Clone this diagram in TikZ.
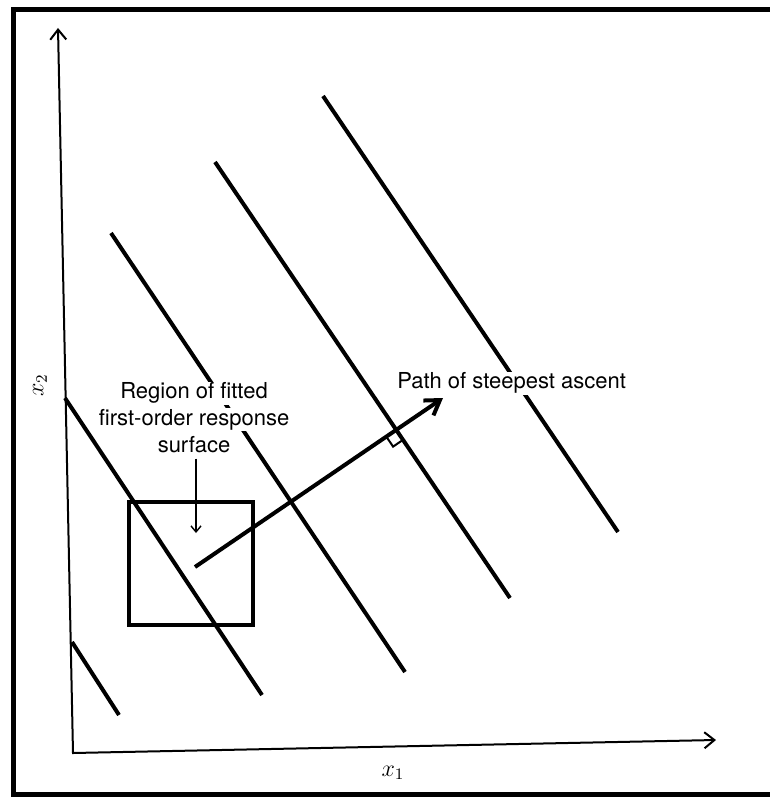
\documentclass[tikz,border=0pt]{standalone}
\usepackage{fontspec}
\newfontfamily\labelfont{TeX Gyre Heros}
\usetikzlibrary{arrows.meta,calc,positioning}

\tikzset{
	contour/.style={line width=2pt},
	axis/.style={line width=1pt},
	lbl/.style={fill=white,inner xsep=1pt,inner ysep=0.5pt,text height=8pt,text depth=2.5pt,
		font=\labelfont\fontsize{11}{13}\selectfont},
	axlbl/.style={font=\fontsize{12}{14}\selectfont},
}

\begin{document}
\begin{tikzpicture}[x=0.5pt,y=-0.5pt]
	\useasboundingbox (0,0) rectangle (770,797);
	% frame, open on the right
	\draw [line width=2.5pt] (770,9.5) -- (13.5,9.5) -- (13.5,794) -- (770,794);
	% axes
	\coordinate (O) at (73,753);
	\coordinate (X) at (716,740);
	\coordinate (Y) at (58,28);
	\draw [axis,{Straight Barb[length=5pt,width=8pt]}-{Straight Barb[length=5pt,width=8pt]}] (Y) -- (O) -- (X);
	\node [axlbl] (xlab) at (393,773) {$x_1$};
	\node [axlbl,rotate=90] (ylab) at (40,385) {$x_2$};
	% contours
	\coordinate (c4a) at (215,162);
	\coordinate (c4b) at (510,598);
	\draw [contour] (72,642) -- (119,715);
	\draw [contour] (65,398) -- (262,695);
	\draw [contour] (111,233) -- (405,672);
	\draw [contour] (c4a) -- (c4b);
	\draw [contour] (323,96) -- (618,532);
	% labels
	\node [lbl] (reg1) at (194,393) {Region of fitted};
	\node [lbl,below=1.5pt of reg1] (reg2) {first-order response};
	\node [lbl,below=1.5pt of reg2] (reg3) {surface};
	\node [lbl,anchor=west] (path) at (395,383) {Path of steepest ascent};
	% region and path
	\draw [contour] (129,502) rectangle (253,625);
	\coordinate (p0) at (195,567);
	\coordinate (p1) at (443,398);
	\draw [contour,-{Straight Barb[length=7pt,width=9pt]}] (p0) -- (p1);
	\coordinate (ra) at (intersection of p0--p1 and c4a--c4b);
	\coordinate (ru) at ($(ra)!6pt!(p0)$);
	\coordinate (rv) at ($(ra)!6pt!(c4b)$);
	\draw [line width=1pt] (ru) -- ($(ru)+(rv)-(ra)$) -- (rv);
	\coordinate (regtip) at (196,533);
	\draw [line width=0.7pt,-{Straight Barb[length=3pt,width=5pt]}] (reg3.south -| regtip) -- (regtip);
\end{tikzpicture}
\end{document}
